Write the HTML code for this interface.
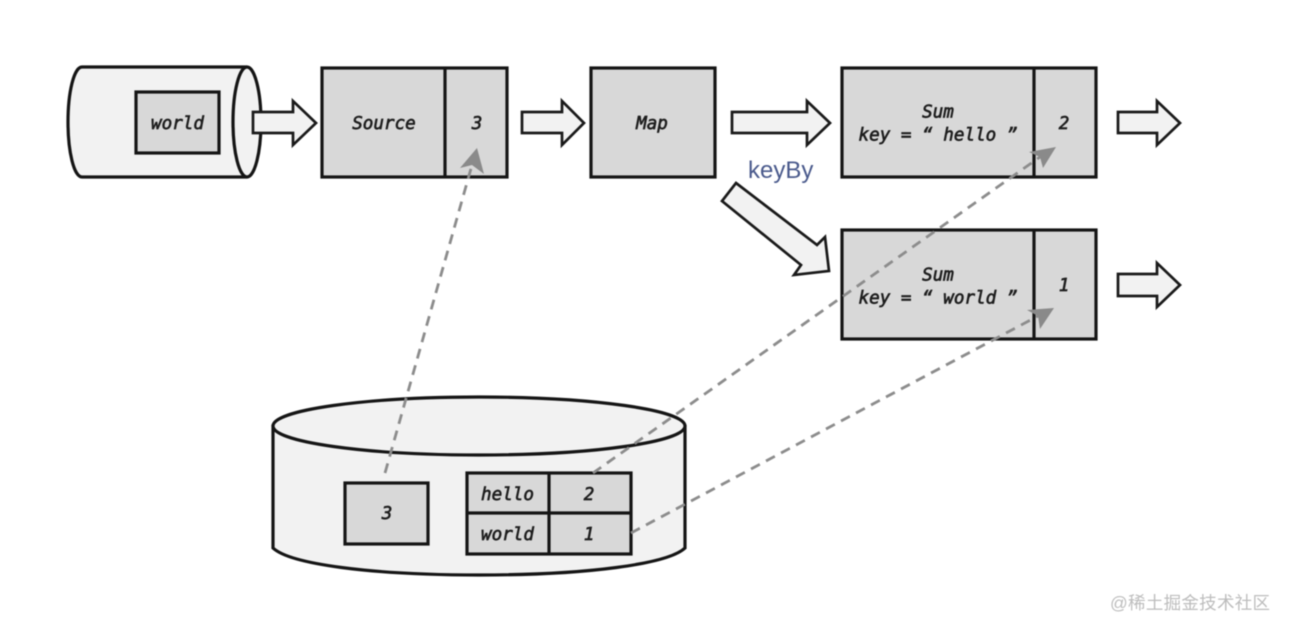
<!DOCTYPE html>
<html><head><meta charset="utf-8"><style>
html,body{margin:0;padding:0;background:#fff;width:1290px;height:632px;overflow:hidden}
svg{display:block;filter:blur(0.6px)}
.b{fill:#d8d8d8;stroke:#151515;stroke-width:3.2}
.a{fill:#f2f2f2;stroke:#1a1a1a;stroke-width:2.700;stroke-linejoin:miter}
.c{fill:#f2f2f2;stroke:#151515;stroke-width:3.200}
.t{font-family:"DejaVu Sans Mono",monospace;font-style:italic;font-weight:normal;font-size:17.600px;fill:#1e1e1e;stroke:#1e1e1e;stroke-width:0.65;text-anchor:middle}
.d{stroke:#8c8c8c;stroke-width:2.800;stroke-dasharray:10 7;fill:none}
.h{fill:#8a8a8a}
</style></head><body>
<svg width="1290" height="632" viewBox="0 0 1290 632" xmlns="http://www.w3.org/2000/svg">
<rect width="1290" height="632" fill="#fff"/>

<!-- left cylinder -->
<path class="c" d="M247 67 H82 C74 67 68 92 68 122 C68 152 74 177 82 177 H247"/>
<ellipse class="c" cx="247" cy="122" rx="14" ry="55"/>
<rect class="b" x="136" y="92" width="83" height="61"/>
<text class="t" x="177.500" y="129">world</text>

<!-- arrows top row -->
<path class="a" d="M253 112 H293 V101 L316 123 L293 145 V133 H253 Z"/>
<path class="a" d="M522 112 H562 V101 L584 123 L562 145 V133 H522 Z"/>
<path class="a" d="M732 112 H807 V101 L830 123 L807 145 V133 H732 Z"/>
<path class="a" d="M1118 112 H1157 V101 L1180 123 L1157 145 V133 H1118 Z"/>
<path class="a" d="M1118 274 H1157 V263 L1180 285 L1157 307 V296 H1118 Z"/>
<path class="a" d="M736 183 L817 245 L825 237 L829 271 L794 275 L801 265 L722 201 Z"/>

<!-- source -->
<rect class="b" x="322" y="68" width="185" height="109"/>
<path d="M445 68 V177" stroke="#151515" stroke-width="3.200"/>
<text class="t" x="384" y="129">Source</text>
<text class="t" x="477" y="129">3</text>

<!-- map -->
<rect class="b" x="591" y="68" width="124" height="109"/>
<text class="t" x="652" y="129">Map</text>

<!-- sum 1 -->
<rect class="b" x="842" y="68" width="254" height="109"/>
<path d="M1034 68 V177" stroke="#151515" stroke-width="3.200"/>
<text class="t" x="938" y="117.500">Sum</text>
<text class="t" x="938" y="140.500" xml:space="preserve">key = “ hello ”</text>
<text class="t" x="1064" y="129">2</text>

<!-- sum 2 -->
<rect class="b" x="842" y="230" width="254" height="109"/>
<path d="M1034 230 V339" stroke="#151515" stroke-width="3.200"/>
<text class="t" x="938" y="280.500">Sum</text>
<text class="t" x="938" y="303.500" xml:space="preserve">key = “ world ”</text>
<text class="t" x="1064" y="291">1</text>

<text x="748" y="178" font-family="'Liberation Sans',sans-serif" font-size="24" fill="#4a5a8c">keyBy</text>

<!-- bottom cylinder -->
<path class="c" d="M273 425 V548 C290 564 370 575 479 575 C588 575 668 564 685 548 V425"/>
<ellipse class="c" cx="479" cy="426" rx="206" ry="29"/>
<rect class="b" x="345" y="483" width="83" height="61"/>
<text class="t" x="387" y="519">3</text>
<rect class="b" x="467" y="473" width="164" height="81"/>
<path d="M549 473 V554 M467 513 H631" stroke="#151515" stroke-width="3.200"/>
<text class="t" x="507.500" y="500">hello</text>
<text class="t" x="589" y="500">2</text>
<text class="t" x="507.500" y="540">world</text>
<text class="t" x="589" y="540">1</text>

<!-- dashed -->
<path class="d" d="M385 473 L472 165"/>
<path class="h" d="M477 148 L484 174 L472 165 L460 168 Z"/>
<path class="d" d="M593 473 L1040 157"/>
<path class="h" d="M1056 147 L1043 168 L1040 157 L1029 152 Z"/>
<path class="d" d="M631 533 L1038 316"/>
<path class="h" d="M1054 308 L1040 329 L1038 316 L1027 310 Z"/>

<text x="1110" y="609" font-family="'Liberation Sans','Noto Sans CJK SC',sans-serif" font-size="17.500" fill="#bdbdbd" textLength="160" lengthAdjust="spacing">@稀土掘金技术社区</text>
</svg>
</body></html>
